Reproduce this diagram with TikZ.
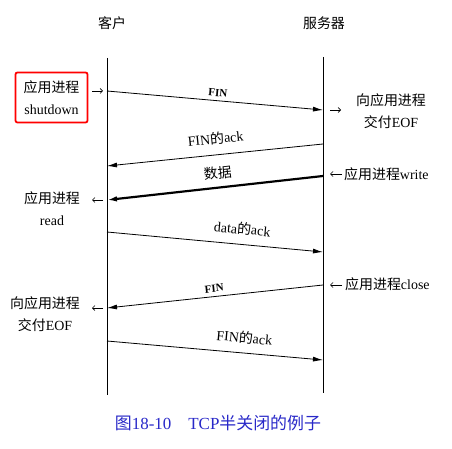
\documentclass[tikz,border=0pt]{standalone}
\usepackage{fontspec}
\setmainfont{Liberation Serif}
\newfontfamily\cjk{Noto Sans CJK SC}
\usetikzlibrary{arrows.meta}
\newcommand\zh[1]{{\cjk #1}}
\definecolor{capblue}{RGB}{40,40,200}
\begin{document}
\begin{tikzpicture}[x=1bp,y=-1bp,
  font=\fontsize{14}{22}\selectfont,
  lifeline/.style={line width=0.9bp},
  msg/.style={draw, line width=0.8bp, -{Latex[length=10bp,width=5bp]}},
  bigmsg/.style={draw, line width=2.2bp, -{Latex[length=10bp,width=5.5bp]}},
  side/.style={draw, line width=0.7bp, -{Straight Barb[length=2.5bp,width=5bp]}},
  lbl/.style={sloped, inner sep=0pt},
  finlbl/.style={lbl, font=\fontsize{11}{13}\selectfont\bfseries},
  sidetext/.style={align=center, inner sep=0pt},
]
\useasboundingbox (0,0) rectangle (452,449);

% headers
\node (client) at (112,23) {\zh{客户}};
\node (server) at (324,23) {\zh{服务器}};

% lifelines
\coordinate (ct) at (107,58);  \coordinate (cb) at (107,395);
\coordinate (st) at (323,57);  \coordinate (sb) at (323,393);
\draw[lifeline] (ct) -- (cb);
\draw[lifeline] (st) -- (sb);

% event points
\coordinate (c1) at (107,91);  \coordinate (s1) at (323,110);
\coordinate (s2) at (323,144); \coordinate (c2) at (107,166);
\coordinate (s3) at (323,176); \coordinate (c3) at (107,200);
\coordinate (c4) at (107,232); \coordinate (s4) at (323,252);
\coordinate (s5) at (323,285); \coordinate (c5) at (107,308);
\coordinate (c6) at (107,341); \coordinate (s6) at (323,360);

% messages
\draw[msg] (c1) -- node[finlbl, pos=0.51, above=4bp] {FIN} (s1);
\draw[msg] (s2) -- node[lbl, pos=0.49, above=10bp] {FIN\zh{的}ack} (c2);
\draw[bigmsg] (s3) -- node[lbl, pos=0.48, above=7bp] {\zh{数据}} (c3);
\draw[msg] (c4) -- node[lbl, pos=0.62, above=9bp] {data\zh{的}ack} (s4);
\draw[msg] (s5) -- node[finlbl, pos=0.50, above=4bp] {FIN} (c5);
\draw[msg] (c6) -- node[lbl, pos=0.63, above=9bp] {FIN\zh{的}ack} (s6);

% side labels
\node[sidetext, draw=red, line width=1.8bp, rounded corners=2bp,
      minimum width=72bp, minimum height=50bp] (shut) at (51.5,97.5)
      {\zh{应用进程}\\shutdown};
\coordinate (a1s) at (92,91); \coordinate (a1e) at (103,91);
\draw[side] (a1s) -- (a1e);

\node[sidetext] (eof1) at (391,111) {\zh{向应用进程}\\\zh{交付}EOF};
\coordinate (a2s) at (330,110); \coordinate (a2e) at (341,110);
\draw[side] (a2s) -- (a2e);

\node[sidetext, anchor=west] (write) at (344,174) {\zh{应用进程}write};
\coordinate (a3s) at (342,174); \coordinate (a3e) at (330,174);
\draw[side] (a3s) -- (a3e);

\node[sidetext] (read) at (52,209) {\zh{应用进程}\\read};
\coordinate (a4s) at (103,200); \coordinate (a4e) at (92,200);
\draw[side] (a4s) -- (a4e);

\node[sidetext, anchor=west] (close) at (345,284) {\zh{应用进程}close};
\coordinate (a5s) at (342,285); \coordinate (a5e) at (330,285);
\draw[side] (a5s) -- (a5e);

\node[sidetext] (eof2) at (45,314) {\zh{向应用进程}\\\zh{交付}EOF};
\coordinate (a6s) at (103,308); \coordinate (a6e) at (92,308);
\draw[side] (a6s) -- (a6e);

% caption
\node[text=capblue, font=\fontsize{17}{20}\selectfont] (caption) at (218,423)
  {\zh{图}18-10\quad TCP\zh{半关闭的例子}};
\end{tikzpicture}
\end{document}
